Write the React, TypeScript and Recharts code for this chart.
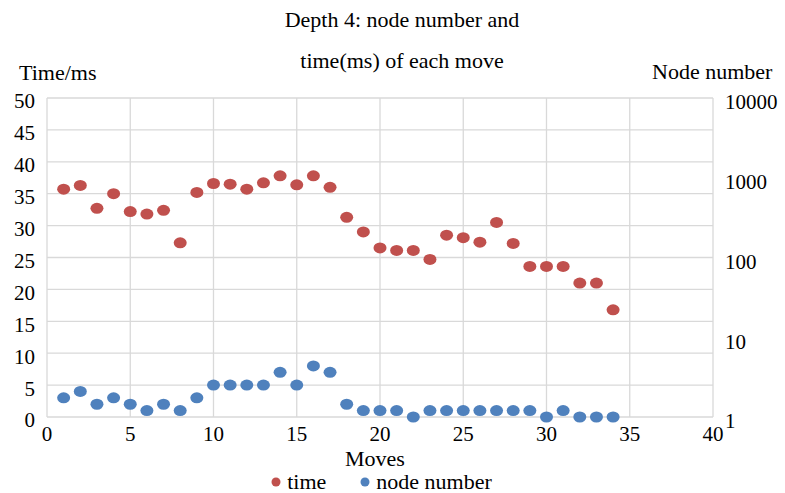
import React from "react";
import { ScatterChart, Scatter, XAxis, YAxis, CartesianGrid, Legend } from "recharts";

const moves = [1, 2, 3, 4, 5, 6, 7, 8, 9, 10, 11, 12, 13, 14, 15, 16, 17, 18, 19, 20, 21, 22, 23, 24, 25, 26, 27, 28, 29, 30, 31, 32, 33, 34];
const timeMs = [35.7, 36.3, 32.7, 35.0, 32.2, 31.8, 32.4, 27.3, 35.2, 36.6, 36.5, 35.7, 36.7, 37.8, 36.4, 37.8, 36.0, 31.3, 29.0, 26.5, 26.1, 26.1, 24.7, 28.5, 28.1, 27.4, 30.5, 27.2, 23.6, 23.6, 23.6, 21.0, 21.0, 16.8];
const nodeNumber = [3, 4, 2, 3, 2, 1, 2, 1, 3, 5, 5, 5, 5, 7, 5, 8, 7, 2, 1, 1, 1, 0, 1, 1, 1, 1, 1, 1, 1, 0, 1, 0, 0, 0];
const xTicks = [0, 5, 10, 15, 20, 25, 30, 35, 40];
const leftTicks = [0, 5, 10, 15, 20, 25, 30, 35, 40, 45, 50];
const rightTicks = [1, 10, 100, 1000, 10000];
const seriesOrder = ["time", "node number"];

const RED = "#C0504D";
const BLUE = "#4F81BD";
const FONT = "'Liberation Serif', 'Times New Roman', serif";

const timeData = moves.map((m, i) => ({ move: m, value: timeMs[i] }));
const nodeData = moves.map((m, i) => ({ move: m, value: nodeNumber[i] }));

const dot = (color: string) => (props: any) => (
  <ellipse cx={props.cx} cy={props.cy} rx={6.5} ry={5.5} fill={color} />
);

const tickStyle = { fontSize: 21, fill: "#000", fontFamily: FONT };

const LegendContent = (props: any) => {
  const payload = [...(props.payload || [])].sort(
    (a: any, b: any) => seriesOrder.indexOf(a.value) - seriesOrder.indexOf(b.value)
  );
  return (
    <div style={{ display: "flex", justifyContent: "center", alignItems: "center", fontFamily: FONT, fontSize: 22, lineHeight: "24px", color: "#000", paddingRight: 22 }}>
      {payload.map((p: any, i: number) => (
        <div key={i} style={{ display: "flex", alignItems: "center", marginRight: i === 0 ? 34 : 0 }}>
          <svg width={10} height={10} style={{ marginRight: 6 }}>
            <circle cx={5} cy={5} r={4.5} fill={p.color} />
          </svg>
          <span>{p.value}</span>
        </div>
      ))}
    </div>
  );
};

const textStyle: React.CSSProperties = {
  position: "absolute",
  fontFamily: FONT,
  fontSize: 22,
  lineHeight: "22px",
  color: "#000",
  whiteSpace: "nowrap",
};

export default function App() {
  return (
    <div style={{ position: "absolute", left: 0, top: 0, width: 785, height: 493, background: "#fff" }}>
      <ScatterChart width={785} height={493} margin={{ top: 98, right: 0, bottom: 46, left: 0 }}>
        <CartesianGrid stroke="#D9D9D9" strokeWidth={1.3} />
        <XAxis
          type="number"
          dataKey="move"
          domain={[0, 40]}
          ticks={xTicks}
          interval={0}
          axisLine={false}
          tickLine={false}
          tickSize={0}
          tickMargin={9}
          height={30}
          tick={tickStyle}
          label={{ value: "Moves", position: "bottom", offset: 3, dx: -5, style: { fontSize: 22, fill: "#000", fontFamily: FONT } }}
        />
        <YAxis
          type="number"
          dataKey="value"
          domain={[0, 50]}
          ticks={leftTicks}
          interval={0}
          width={47}
          axisLine={false}
          tickLine={false}
          tickSize={0}
          tickMargin={12}
          tick={{ ...tickStyle, dy: 3 }}
        />
        <YAxis
          yAxisId="right"
          orientation="right"
          type="number"
          scale="log"
          domain={[1, 10000]}
          allowDataOverflow
          ticks={rightTicks}
          interval={0}
          width={72}
          axisLine={false}
          tickLine={false}
          tickSize={0}
          tickMargin={12}
          tick={{ ...tickStyle, dy: 4, textAnchor: "start" }}
        />
        <Legend
          verticalAlign="middle"
          layout="horizontal"
          content={<LegendContent />}
          wrapperStyle={{ top: 470, left: 0, width: 785, height: 23 }}
        />
        <Scatter name="time" data={timeData} fill={RED} shape={dot(RED)} isAnimationActive={false} />
        <Scatter name="node number" data={nodeData} fill={BLUE} shape={dot(BLUE)} isAnimationActive={false} />
      </ScatterChart>
      <div style={{ ...textStyle, left: 0, width: 804, textAlign: "center", top: 9 }}>Depth 4: node number and</div>
      <div style={{ ...textStyle, left: 0, width: 804, textAlign: "center", top: 50 }}>time(ms) of each move</div>
      <div style={{ ...textStyle, left: 19, top: 62 }}>Time/ms</div>
      <div style={{ ...textStyle, left: 652, top: 61 }}>Node number</div>
    </div>
  );
}
